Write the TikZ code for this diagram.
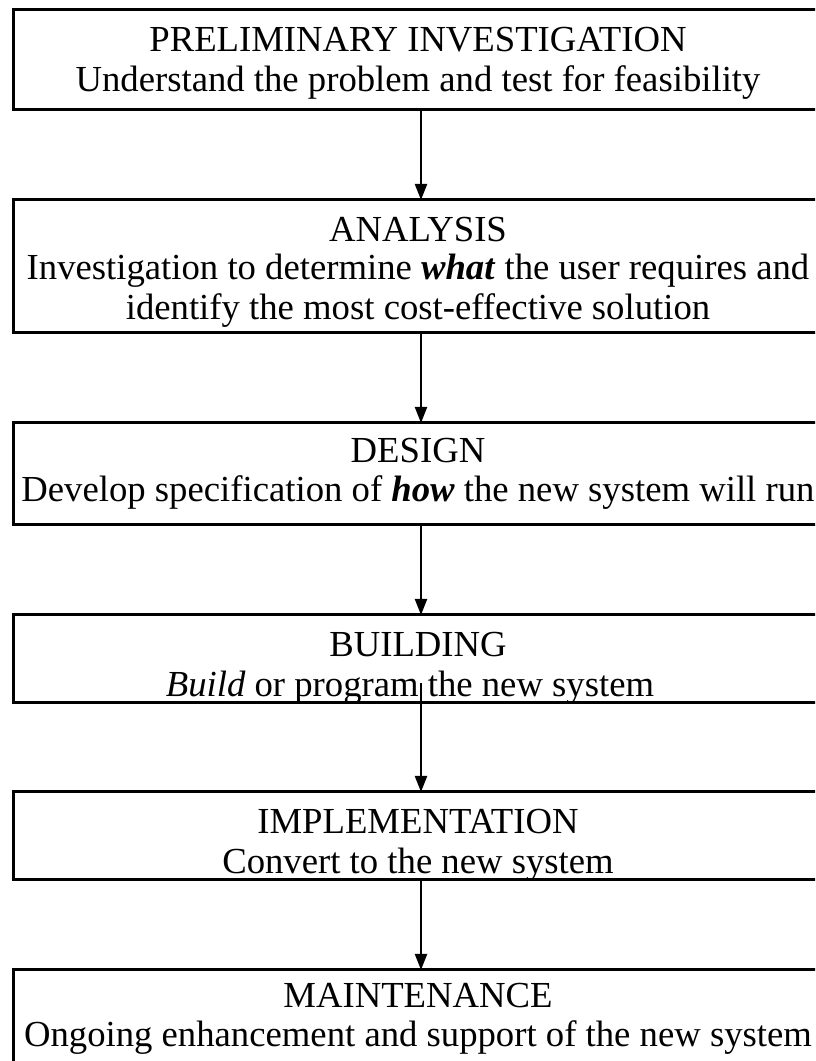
\documentclass[tikz,border=0pt]{standalone}
\usepackage{fontspec}
\setmainfont{Liberation Serif}
\usetikzlibrary{arrows.meta}
\tikzset{
  stagebox/.style={draw=black, line width=3pt, minimum width=810pt, inner sep=0pt, outer sep=0pt},
  stagetext/.style={anchor=base, inner sep=0pt, font=\fontsize{36.7}{40}\selectfont},
  flowarrow/.style={line width=2.2pt, -{Triangle[length=16pt,width=12pt]}}
}
\begin{document}
\begin{tikzpicture}[x=1pt,y=1pt]
\useasboundingbox (0,0) rectangle (815,1061);
\clip (0,0) rectangle (815,1061);
\fill[white] (0,0) rectangle (815,1061);
% boxes
\node[stagebox, minimum height=100pt] (b1) at (418,1001) {};
\node[stagebox, minimum height=133pt] (b2) at (418,794.5) {};
\node[stagebox, minimum height=102pt] (b3) at (418,587) {};
\node[stagebox, minimum height=88pt]  (b4) at (418,402) {};
\node[stagebox, minimum height=88pt]  (b5) at (418,225) {};
\node[stagebox, minimum height=100pt] (b6) at (418,41) {};
% texts
\node[stagetext] (t1a) at (418,1009) {PRELIMINARY INVESTIGATION};
\node[stagetext] (t1b) at (418,969) {Understand the problem and test for feasibility};
\node[stagetext] (t2a) at (418,819) {ANALYSIS};
\node[stagetext] (t2b) at (418,781) {Investigation to determine \textbf{\textit{what}} the user requires and};
\node[stagetext] (t2c) at (418,741) {identify the most cost-effective solution};
\node[stagetext] (t3a) at (418,598) {DESIGN};
\node[stagetext] (t3b) at (418,559) {Develop specification of \textbf{\textit{how}} the new system will run};
\node[stagetext] (t4a) at (418,404) {BUILDING};
\node[stagetext] (t4b) at (410,364) {\textit{Build} or program the new system};
\node[stagetext] (t5a) at (418,227) {IMPLEMENTATION};
\node[stagetext] (t5b) at (418,187) {Convert to the new system};
\node[stagetext] (t6a) at (418,53) {MAINTENANCE};
\node[stagetext] (t6b) at (418,14) {Ongoing enhancement and support of the new system};
% arrows
\draw[flowarrow] ([xshift=3pt]b1.south) -- ([xshift=3pt]b2.north);
\draw[flowarrow] ([xshift=3pt]b2.south) -- ([xshift=3pt]b3.north);
\draw[flowarrow] ([xshift=3pt]b3.south) -- ([xshift=3pt]b4.north);
\draw[flowarrow] ([xshift=3pt,yshift=20pt]b4.south) -- ([xshift=3pt]b5.north);
\draw[flowarrow] ([xshift=3pt]b5.south) -- ([xshift=3pt]b6.north);
\end{tikzpicture}
\end{document}
